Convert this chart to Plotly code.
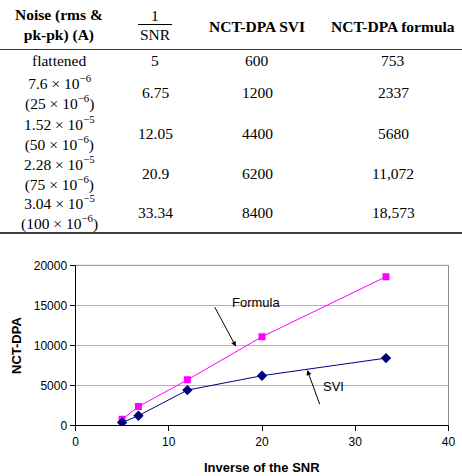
import plotly.graph_objects as go

W, H = 462, 476

# ---------------- Table data ----------------
header_labels = [
    "<b>Noise (rms &amp;<br>pk-pk) (A)</b>",
    "1<br>SNR",
    "<b>NCT-DPA SVI</b>",
    "<b>NCT-DPA formula</b>",
]
noise_labels = [
    "flattened",
    "7.6 × 10<sup>−6</sup><br>(25 × 10<sup>−6</sup>)",
    "1.52 × 10<sup>−5</sup><br>(50 × 10<sup>−6</sup>)",
    "2.28 × 10<sup>−5</sup><br>(75 × 10<sup>−6</sup>)",
    "3.04 × 10<sup>−5</sup><br>(100 × 10<sup>−6</sup>)",
]
inv_snr_text = ["5", "6.75", "12.05", "20.9", "33.34"]
svi_text = ["600", "1200", "4400", "6200", "8400"]
formula_text = ["753", "2337", "5680", "11,072", "18,573"]

# ---------------- Chart data ----------------
inv_snr = [5, 6.75, 12, 20, 33.3]
svi_values = [350, 1200, 4400, 6200, 8400]
formula_values = [753, 2337, 5680, 11072, 18573]


def px(x):
    return x / W


def py(y):
    return 1 - y / H


serif = "Liberation Serif"
sans = "Liberation Sans"

fig = go.Figure()

fig.add_trace(go.Scatter(
    x=inv_snr, y=formula_values, mode="lines+markers", name="Formula",
    line=dict(color="#FF00FF", width=1),
    marker=dict(symbol="square", size=7, color="#FF00FF"),
))
fig.add_trace(go.Scatter(
    x=inv_snr, y=svi_values, mode="lines+markers", name="SVI",
    line=dict(color="#000080", width=1),
    marker=dict(symbol="diamond", size=8, color="#000080"),
))

x0p, x1p = 75.5, 448.5
ytop, ybot = 265.3, 425.3

fig.update_layout(
    width=W, height=H,
    margin=dict(l=0, r=0, t=0, b=0, autoexpand=False),
    paper_bgcolor="white", plot_bgcolor="white",
    showlegend=False,
    xaxis=dict(
        domain=[px(x0p), px(x1p)], range=[0, 40], dtick=10,
        showline=True, linecolor="black", linewidth=1,
        ticks="outside", ticklen=5, tickcolor="black",
        showgrid=False, zeroline=False, automargin=False,
        tickfont=dict(family=sans, size=12, color="black"),
    ),
    yaxis=dict(
        domain=[py(ybot), py(ytop)], range=[0, 20000], dtick=5000,
        tickformat="d",
        showline=True, linecolor="black", linewidth=1,
        ticks="outside", ticklen=5, tickcolor="black",
        showgrid=True, gridcolor="#B4B4B4", gridwidth=1,
        zeroline=False, automargin=False,
        tickfont=dict(family=sans, size=12, color="black"),
    ),
)

shapes = []
# plot area border (top and right, grey)
shapes.append(dict(type="line", xref="paper", yref="paper",
                   x0=px(x0p), x1=px(x1p), y0=py(ytop), y1=py(ytop),
                   line=dict(color="#8C8C8C", width=1)))
shapes.append(dict(type="line", xref="paper", yref="paper",
                   x0=px(x1p), x1=px(x1p), y0=py(ytop), y1=py(ybot),
                   line=dict(color="#8C8C8C", width=1)))
# table rules
shapes.append(dict(type="line", xref="paper", yref="paper",
                   x0=0, x1=1, y0=py(49.5), y1=py(49.5),
                   line=dict(color="#333333", width=1)))
shapes.append(dict(type="line", xref="paper", yref="paper",
                   x0=0, x1=1, y0=py(233), y1=py(233),
                   line=dict(color="black", width=1.6)))
# fraction bar in header
shapes.append(dict(type="line", xref="paper", yref="paper",
                   x0=px(138), x1=px(172), y0=py(24.5), y1=py(24.5),
                   line=dict(color="black", width=1)))

annotations = []


def text_at(t, x, y, font, **kw):
    d = dict(text=t, x=px(x), y=py(y), xref="paper", yref="paper",
             xanchor="center", yanchor="middle", showarrow=False,
             align="center", font=font)
    d.update(kw)
    annotations.append(d)


tfont = dict(family=serif, size=15.5, color="black")
col_x = [59, 155, 257, 393]
header_y = [25, 25, 26, 26]
for i, lab in enumerate(header_labels):
    if i == 1:
        top, bottom = lab.split("<br>")
        text_at(top, col_x[i], 15, tfont)
        text_at(bottom, col_x[i], 35, tfont)
    else:
        text_at(lab, col_x[i], header_y[i], tfont)

row_y = [61, 93, 133, 173, 213]
for r in range(len(noise_labels)):
    cells = [noise_labels[r], inv_snr_text[r], svi_text[r], formula_text[r]]
    for c, t in enumerate(cells):
        text_at(t, col_x[c], row_y[r], tfont)

# axis titles
afont = dict(family=sans, size=13, color="black")
text_at("<b>Inverse of the SNR</b>", 262, 467, afont)
text_at("<b>NCT-DPA</b>", 16, 346, afont, textangle=-90)

# series labels with arrows
annotations.append(dict(text="Formula", x=19.4, y=15400, xref="x", yref="y", showarrow=False,
                        xanchor="center", yanchor="middle",
                        font=dict(family=sans, size=13, color="black")))
annotations.append(dict(text="", x=17.2, y=9850, ax=14.85, ay=14950, xref="x", yref="y",
                        axref="x", ayref="y", showarrow=True, arrowhead=2, arrowsize=1,
                        arrowwidth=1, arrowcolor="black"))
annotations.append(dict(text="SVI", x=27.7, y=4800, xref="x", yref="y", showarrow=False,
                        xanchor="center", yanchor="middle",
                        font=dict(family=sans, size=13, color="black")))
annotations.append(dict(text="", x=24.85, y=6900, ax=26.25, ay=2450, xref="x", yref="y",
                        axref="x", ayref="y", showarrow=True, arrowhead=2, arrowsize=1,
                        arrowwidth=1, arrowcolor="black"))

fig.update_layout(shapes=shapes, annotations=annotations)
fig.write_html("out.html")
